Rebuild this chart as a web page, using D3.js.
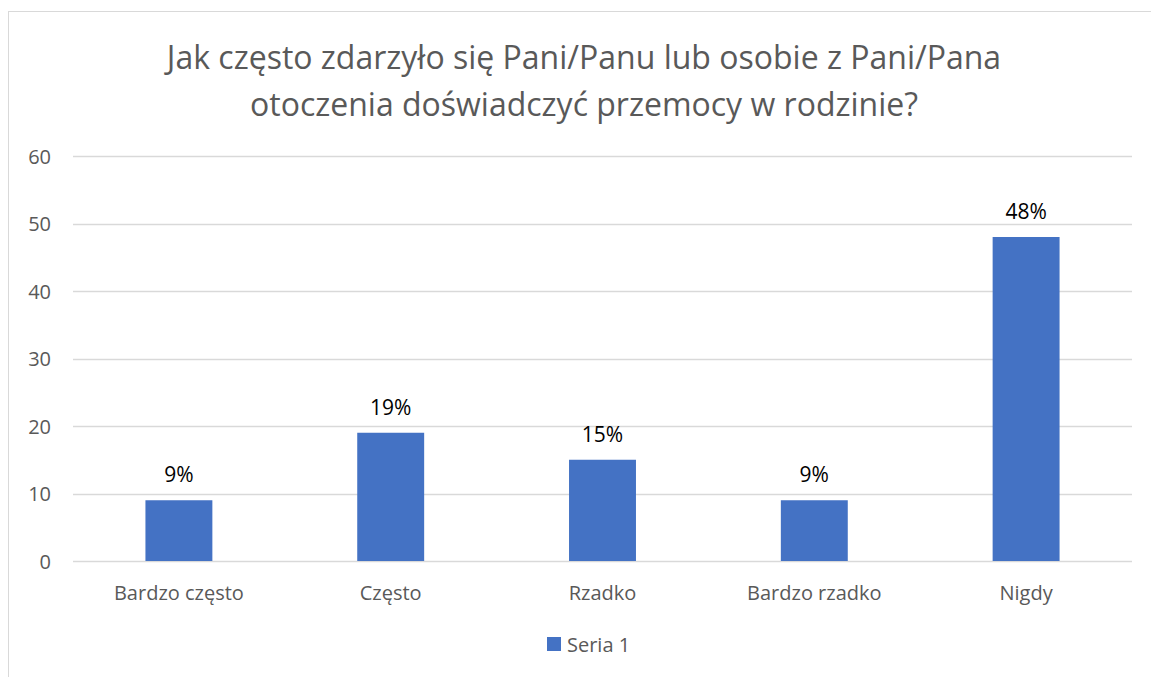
<!DOCTYPE html>
<html>
<head>
<meta charset="utf-8">
<script src="https://cdn.jsdelivr.net/npm/d3@7"></script>
<style>
  body { margin: 0; background: #fff; }
  svg text { font-family: "Open Sans", Lato, sans-serif; }
</style>
</head>
<body>
<div id="chart"></div>
<script>
// chart data
const categories = ['Bardzo często', 'Często', 'Rzadko', 'Bardzo rzadko', 'Nigdy'];
const values = [9, 19, 15, 9, 48];
const valueLabels = ['9%', '19%', '15%', '9%', '48%'];
const yTicks = [0, 10, 20, 30, 40, 50, 60];
const titleLines = ['Jak często zdarzyło się Pani/Panu lub osobie z Pani/Pana', 'otoczenia doświadczyć przemocy w rodzinie?'];
const seriesName = 'Seria 1';

const W = 1151, H = 677;
const margin = { top: 156, right: 19, bottom: 116, left: 73 };
const barColor = '#4472c4';
const textColor = '#595959';

const svg = d3.select('#chart').append('svg')
  .attr('width', W)
  .attr('height', H);

// outer chart frame
svg.append('rect')
  .attr('x', 8.5).attr('y', 11.5)
  .attr('width', W + 10).attr('height', H + 10)
  .attr('fill', 'none')
  .attr('stroke', '#d9d9d9');

const x = d3.scaleBand()
  .domain(categories)
  .range([margin.left, W - margin.right])
  .paddingInner(0.684)
  .paddingOuter(0.342);

const y = d3.scaleLinear()
  .domain([0, 60])
  .range([H - margin.bottom, margin.top]);

// title
svg.append('g').selectAll('text')
  .data(titleLines)
  .enter().append('text')
  .attr('x', 584)
  .attr('y', (d, i) => 69 + i * 47)
  .attr('text-anchor', 'middle')
  .attr('font-size', 32)
  .attr('fill', textColor)
  .text(d => d);

// gridlines
svg.append('g').selectAll('line')
  .data(yTicks)
  .enter().append('line')
  .attr('x1', margin.left)
  .attr('x2', W - margin.right)
  .attr('y1', d => Math.round(y(d)) + 0.5)
  .attr('y2', d => Math.round(y(d)) + 0.5)
  .attr('stroke', '#d9d9d9')
  .attr('stroke-width', 1.5);

// y axis labels
const yAxis = svg.append('g')
  .attr('transform', `translate(${margin.left - 22},0)`)
  .call(d3.axisLeft(y).tickValues(yTicks).tickSize(0).tickPadding(0));
yAxis.select('.domain').remove();
yAxis.selectAll('text')
  .attr('font-size', 20)
  .attr('fill', textColor)
  .attr('dy', '0.35em');

// bars
svg.append('g').selectAll('rect')
  .data(values)
  .enter().append('rect')
  .attr('x', (d, i) => x(categories[i]))
  .attr('y', d => y(d))
  .attr('width', x.bandwidth())
  .attr('height', d => y(0) - y(d))
  .attr('fill', barColor);

// value labels
svg.append('g').selectAll('text')
  .data(values)
  .enter().append('text')
  .attr('x', (d, i) => x(categories[i]) + x.bandwidth() / 2)
  .attr('y', d => y(d) - 18)
  .attr('text-anchor', 'middle')
  .attr('font-size', 21)
  .attr('fill', '#000')
  .text((d, i) => valueLabels[i]);

// x axis labels
const xAxis = svg.append('g')
  .attr('transform', `translate(0,${y(0)})`)
  .call(d3.axisBottom(x).tickSize(0).tickPadding(0));
xAxis.select('.domain').remove();
xAxis.selectAll('text')
  .attr('font-size', 20)
  .attr('fill', textColor)
  .attr('dy', '39px');

// legend
const legend = svg.append('g').attr('transform', 'translate(547,637)');
legend.append('rect')
  .attr('width', 14).attr('height', 14)
  .attr('fill', barColor);
legend.append('text')
  .attr('x', 20).attr('y', 14.5)
  .attr('font-size', 20)
  .attr('fill', textColor)
  .text(seriesName);
</script>
</body>
</html>
